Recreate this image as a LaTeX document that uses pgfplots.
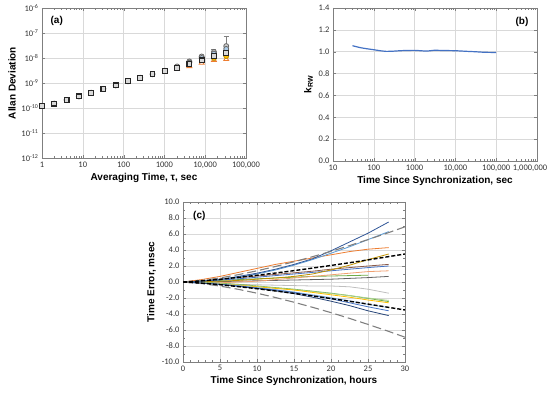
\documentclass[border=0pt]{standalone}
\usepackage{fontspec}
\setmainfont{Liberation Sans}
\newfontfamily\tickfont{Carlito}
\usepackage{pgfplots}
\usepackage{pgfplotstable}
\pgfplotsset{compat=1.18}
\definecolor{cA}{HTML}{2F5597}
\definecolor{cB}{HTML}{5B9BD5}
\definecolor{cC}{HTML}{ED7D31}
\definecolor{cD}{HTML}{BF9000}
\definecolor{cE}{HTML}{8B5A4A}
\definecolor{cF}{HTML}{4472C4}
\definecolor{cG}{HTML}{F0A070}
\definecolor{cH}{HTML}{70AD47}
\definecolor{cI}{HTML}{636363}
\definecolor{cJ}{HTML}{BFBFBF}
\definecolor{cK}{HTML}{FFC000}
\definecolor{cL}{HTML}{A9D18E}
\definecolor{cM}{HTML}{8FB8E0}
\definecolor{cN}{HTML}{264478}
\definecolor{gridc}{HTML}{D9D9D9}
\definecolor{axc}{HTML}{7F7F7F}

\pgfplotstableread{
t    L1   L2   L3   L4   L5   L6   L7    L8   L9   L11  L12   L13  L14   L15  L16   L17
0    0    0    0    0    0    0    0     0    0    0    0     0    0     0    0     0
2.5  0.1  0.1  0.3  0.05 0.15 0.1  -0.05 0.1  0.0  -0.1 -0.1  -0.1 -0.1  -0.15 -0.15 -0.05
5    0.3  0.3  0.7  0.1  0.35 0.25 -0.1  0.2  0.05 -0.2 -0.25 -0.2 -0.25 -0.3 -0.3  -0.15
7.5  0.7  0.6  1.2  0.2  0.55 0.4  0.0   0.3  0.1  -0.3 -0.4  -0.35 -0.45 -0.5 -0.55 -0.3
10   1.1  1.0  1.7  0.35 0.75 0.6  0.1   0.4  0.15 -0.35 -0.6 -0.55 -0.7 -0.75 -0.8  -0.5
12.5 1.6  1.5  2.2  0.5  0.95 0.8  0.3   0.5  0.2  -0.4 -0.8  -0.75 -0.95 -1.0 -1.1  -0.7
15   2.2  2.1  2.6  0.7  1.15 1.0  0.5   0.6  0.25 -0.45 -1.0 -0.95 -1.25 -1.3 -1.45 -0.9
17.5 2.9  2.8  3.0  1.0  1.35 1.2  0.7   0.7  0.3  -0.5 -1.3  -1.2 -1.6  -1.7  -1.9  -1.15
20   3.9  3.6  3.4  1.5  1.6  1.4  0.9   0.75 0.35 -0.5 -1.6  -1.45 -1.95 -2.1 -2.4  -1.4
22.5 5.0  4.4  3.8  2.1  1.8  1.6  1.1   0.8  0.45 -0.6 -1.9  -1.7 -2.35 -2.6  -2.95 -1.7
25   6.1  5.3  4.1  2.8  2.0  1.8  1.3   0.85 0.55 -0.9 -2.25 -2.0 -2.8  -3.1  -3.6  -2.05
27.8 7.5  6.3  4.3  3.5  2.2  2.0  1.4   nan  0.7  -1.4 -2.6  -2.3 -3.2  -3.6  -4.2  -2.45
}\tc

\pgfplotstableread{
t    bk   gr
0    0    0
2.5  0.14 0.19
5    0.34 0.51
7.5  0.58 0.92
10   0.84 1.40
12.5 1.12 1.94
15   1.42 2.53
17.5 1.74 3.16
20   2.07 3.83
22.5 2.41 4.55
25   2.76 5.30
27.5 3.13 6.08
30   3.5  6.9
}\tenv

\pgfplotsset{
  panel/.style={
    scale only axis,
    axis line style={draw=axc},
    grid=major,
    major grid style={draw=gridc, line width=0.5pt},
    tick style={draw=axc},
    tick align=inside,
    major tick length=3pt,
    minor tick length=2pt,
    tick label style={font=\tickfont\fontsize{8.5}{9}\selectfont, text=black!80},
    label style={font=\fontsize{10}{11}\selectfont\bfseries},
    /pgf/number format/assume math mode=true,
  }
}

\begin{document}
\begin{tikzpicture}
\useasboundingbox (0,0) rectangle (550pt,-395pt);

% ---------- (a)
\begin{axis}[panel,
  at={(42pt,-158pt)}, anchor=south west,
  width=204pt, height=150pt,
  xmode=log, ymode=log,
  xmin=1, xmax=100000, ymin=1e-12, ymax=1e-6,
  xtick={1,10,100,1000,10000,100000},
  xticklabels={1,10,100,1000,{10,000},{100,000}},
  ytick={1e-12,1e-11,1e-10,1e-9,1e-8,1e-7,1e-6},
  yticklabels={10\textsuperscript{-12},10\textsuperscript{-11},10\textsuperscript{-10},10\textsuperscript{-9},10\textsuperscript{-8},10\textsuperscript{-7},10\textsuperscript{-6}},
  yminorticks=false,
  xlabel={Averaging Time, τ, sec},
  ylabel={Allan Deviation},
  xlabel style={yshift=2pt},
  ylabel style={yshift=-1pt},
  clip=false,
]
\addplot[only marks, mark=*, mark size=2.5pt, draw=black!60, fill=black!20, line width=0.8pt,
  error bars/.cd, y dir=both, y explicit, error bar style={gray, line width=0.6pt}] coordinates {
(1,1.22e-10) (2,1.5e-10) (4,2.1e-10) (8,2.9e-10) (16,4.1e-10) (32,5.8e-10)
(64,8.0e-10) (128,1.17e-9) (256,1.62e-9) (512,2.25e-9) (1024,3.1e-9)
(2048,4.6e-9) (4096,7.3e-9) (8192,1.15e-8) (16384,1.75e-8) += (0,0.4e-8) -= (0,0.3e-8)
(32768,3.0e-8) += (0,4.3e-8) -= (0,1.5e-8)
};
\addplot[only marks, mark=*, mark size=2.5pt, draw=black!60, fill=cB!50, line width=0.8pt] coordinates {
(4096,6.5e-9) (8192,1.0e-8) (16384,1.5e-8) (32768,2.3e-8)
};
\addplot[only marks, mark=triangle, mark size=2.8pt, draw=cC, line width=0.9pt] coordinates {
(2048,3.8e-9) (4096,4.7e-9) (8192,6.4e-9) (16384,8.3e-9) (32768,9.0e-9)
};
\addplot[only marks, mark=*, mark size=2.5pt, draw=cD, fill=cK, line width=0.8pt] coordinates {
(16384,1.0e-8) (32768,1.2e-8)
};
\addplot[only marks, mark=square*, mark size=2.4pt, draw=black!85, fill=black!15, line width=1.1pt] coordinates {
(1,1.22e-10) (2,1.5e-10) (4,2.1e-10) (8,2.9e-10) (16,4.1e-10) (32,5.8e-10)
(64,8.0e-10) (128,1.17e-9) (256,1.62e-9) (512,2.25e-9) (1024,3.1e-9)
(2048,4.1e-9) (4096,5.6e-9) (8192,8.0e-9) (16384,1.2e-8) (32768,1.6e-8)
};
\node[anchor=west, font=\fontsize{10}{11}\selectfont\bfseries] at (rel axis cs:0.025,0.915) {(a)};
\end{axis}

% ---------- (b)
\begin{axis}[panel,
  at={(333pt,-161pt)}, anchor=south west,
  width=204pt, height=153pt,
  xmode=log,
  xmin=10, xmax=1000000, ymin=0, ymax=1.4,
  xtick={10,100,1000,10000,100000,1000000},
  xticklabels={10,100,1000,{10,000},{100,000},{\hspace*{-14pt}1,000,000}},
  ytick={0,0.2,...,1.4},
  yticklabel style={/pgf/number format/.cd, fixed, fixed zerofill, precision=1},
  xlabel={Time Since Synchronization, sec},
  ylabel={k\textsubscript{RW}},
  xlabel style={yshift=2pt},
  ylabel style={yshift=-1pt},
]
\addplot[cF, line width=1.2pt, smooth] coordinates {
(30,1.055) (50,1.035) (100,1.018) (150,1.008) (200,1.003) (300,1.005) (500,1.01)
(1000,1.012) (2000,1.006) (3000,1.013) (5000,1.011) (10000,1.009) (20000,1.003)
(30000,1.0) (50000,0.995) (100000,0.993)
};
\node[anchor=east, font=\fontsize{10}{11}\selectfont\bfseries] at (rel axis cs:0.975,0.91) {(b)};
\end{axis}

% ---------- (c)
\begin{axis}[panel,
  at={(183pt,-362pt)}, anchor=south west,
  width=222pt, height=160pt,
  xmin=0, xmax=30, ymin=-10, ymax=10,
  xtick={0,5,...,30},
  ytick={-10,-8,...,10},
  minor x tick num=4,
  minor y tick num=1,
  major tick style={/pgfplots/tick align=outside},
  yticklabel style={/pgf/number format/.cd, fixed, fixed zerofill, precision=1},
  xlabel={Time Since Synchronization, hours},
  ylabel={Time Error, msec},
  xlabel style={yshift=2pt},
  ylabel style={yshift=-1pt},
  every axis plot/.append style={line width=0.8pt},
]
\addplot[cJ] table[x=t,y=L11] {\tc};
\addplot[cI] table[x=t,y=L9] {\tc};
\addplot[cH] table[x=t,y=L8] {\tc};
\addplot[cG] table[x=t,y=L7] {\tc};
\addplot[cF] table[x=t,y=L6] {\tc};
\addplot[cE] table[x=t,y=L5] {\tc};
\addplot[cD] table[x=t,y=L4] {\tc};
\addplot[cC] table[x=t,y=L3] {\tc};
\addplot[cB] table[x=t,y=L2] {\tc};
\addplot[cA] table[x=t,y=L1] {\tc};
\addplot[cH] table[x=t,y=L17] {\tc};
\addplot[cL] table[x=t,y=L13] {\tc};
\addplot[cK] table[x=t,y=L12] {\tc};
\addplot[cM] table[x=t,y=L14] {\tc};
\addplot[cF] table[x=t,y=L15] {\tc};
\addplot[cN] table[x=t,y=L16] {\tc};
\addplot[black!50, line width=1.1pt, dash pattern=on 9pt off 4pt] table[x=t,y=gr] {\tenv};
\addplot[black!50, line width=1.1pt, dash pattern=on 9pt off 4pt] table[x=t,y expr=-\thisrow{gr}] {\tenv};
\addplot[black, line width=1.4pt, dash pattern=on 4pt off 2pt] table[x=t,y=bk] {\tenv};
\addplot[black, line width=1.4pt, dash pattern=on 4pt off 2pt] table[x=t,y expr=-\thisrow{bk}] {\tenv};
\node[anchor=west, font=\fontsize{10}{11}\selectfont\bfseries] at (rel axis cs:0.03,0.915) {(c)};
\end{axis}
\end{tikzpicture}
\end{document}
